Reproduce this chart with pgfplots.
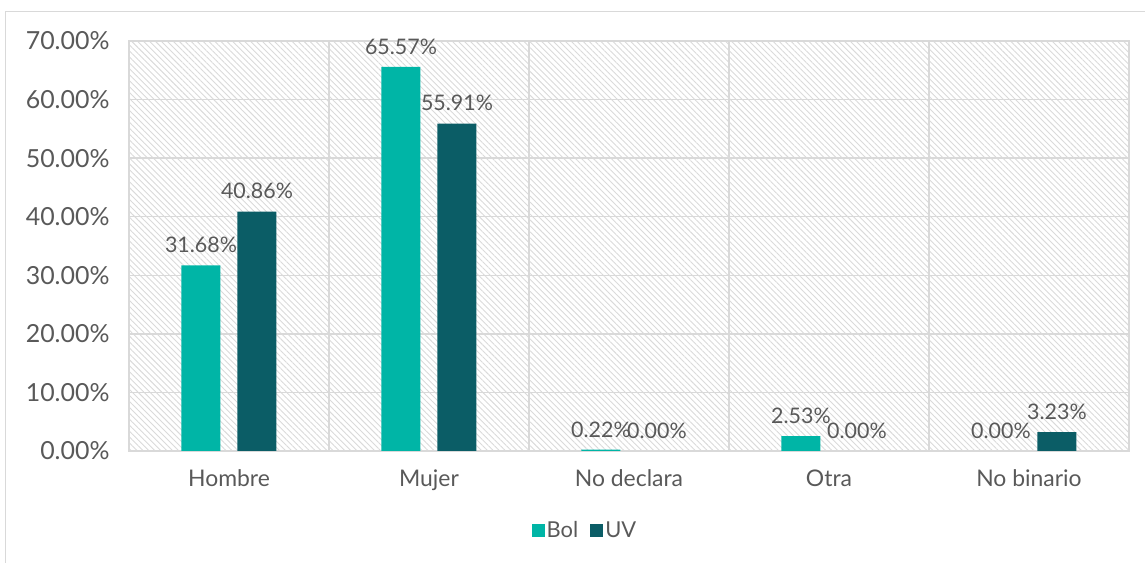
\documentclass[border=0pt]{standalone}
\usepackage{pgfplots}
\pgfplotsset{compat=1.18}
\usepackage{fontspec}
\setmainfont{Lato}
\usetikzlibrary{patterns.meta}
\definecolor{bol}{HTML}{00B5A6}
\definecolor{uv}{HTML}{0B5D66}
\definecolor{txt}{HTML}{595959}
\definecolor{gridc}{HTML}{D9D9D9}
\definecolor{hatch}{HTML}{DADADA}
\begin{document}
\begin{tikzpicture}
\path[use as bounding box] (0,0) rectangle (1145bp,563bp);
\draw[gridc, line width=1.5bp] (5.5bp,0) -- (5.5bp,551.5bp) -- (1145bp,551.5bp);
\begin{axis}[
  at={(129bp,112bp)}, anchor=south west,
  width=1000bp, height=410bp, scale only axis,
  xmin=-0.5, xmax=4.5, ymin=0, ymax=70,
  xtick={0,1,2,3,4},
  xticklabels={Hombre,Mujer,No declara,Otra,No binario},
  minor xtick={-0.5,0.5,1.5,2.5,3.5,4.5},
  ytick={0,10,...,70},
  yticklabel={\pgfmathprintnumber[fixed,fixed zerofill,precision=2]{\tick}\%},
  /pgf/number format/assume math mode=true,
  ymajorgrids, xminorgrids,
  grid style={gridc, line width=1.5bp},
  minor grid style={gridc, line width=1.5bp},
  axis line style={gridc, line width=1.5bp},
  major tick length=0pt, minor tick length=0pt,
  tick style={draw=none},
  ticklabel style={text=txt},
  yticklabel style={font=\fontsize{25}{28}\selectfont, xshift=-16bp},
  xticklabel style={font=\fontsize{23}{27}\selectfont, yshift=-15bp},
  axis background/.style={pattern={Lines[angle=-45,distance=4.2bp,line width=0.9bp]}, pattern color=hatch},
  ybar, bar width=0.195,
  nodes near coords={\pgfmathprintnumber[fixed,fixed zerofill,precision=2]{\pgfplotspointmeta}\%},
  nodes near coords style={font=\fontsize{21.5}{24}\selectfont, text=txt, yshift=9bp, /pgf/number format/assume math mode=true},
  legend style={at={(0.456,-0.193)}, anchor=center, legend columns=2, draw=none, fill=none,
    font=\fontsize{22}{26}\selectfont, text=txt,
    /tikz/every even column/.append style={column sep=10bp}},
  legend image code/.code={\fill[#1, draw=none] (0bp,-6.5bp) rectangle (13bp,6.5bp);},
]
\addplot[fill=bol, draw=none, bar shift=-0.14] coordinates {(0,31.68) (1,65.57) (2,0.22) (3,2.53) (4,0.00)};
\addplot[fill=uv, draw=none, bar shift=0.14] coordinates {(0,40.86) (1,55.91) (2,0.00) (3,0.00) (4,3.23)};
\legend{Bol,UV}
\end{axis}
\end{tikzpicture}
\end{document}
